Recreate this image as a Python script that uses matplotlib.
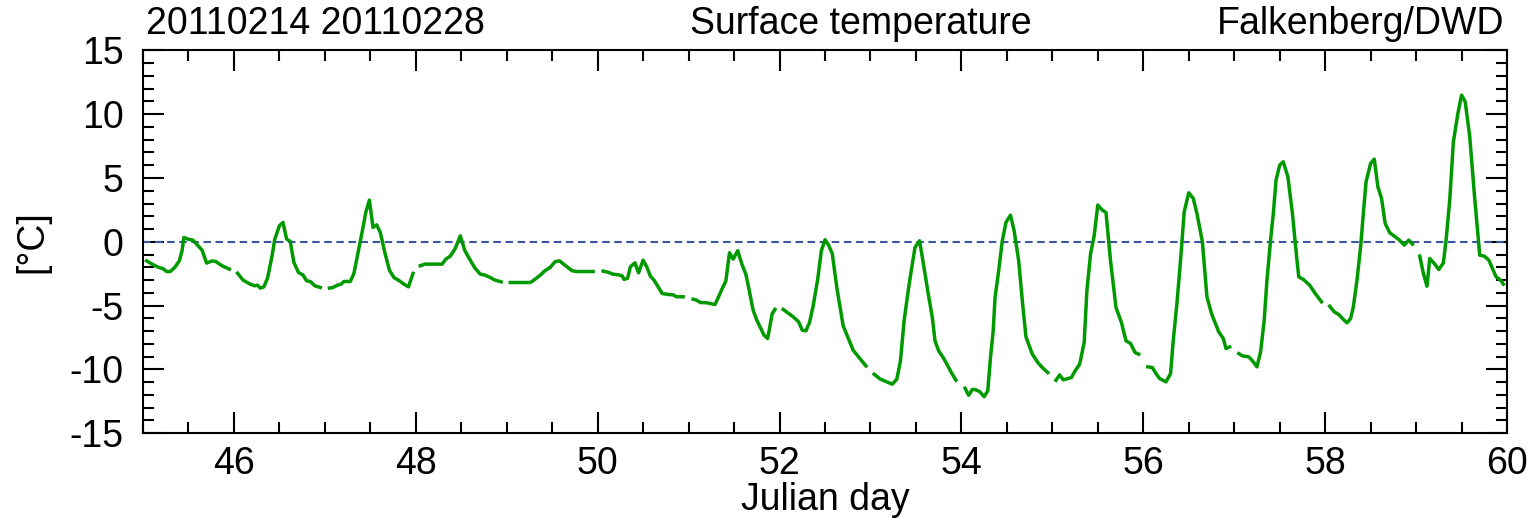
import numpy as np
import matplotlib.pyplot as plt
from matplotlib.ticker import MultipleLocator

plt.rcParams['font.family'] = ['Liberation Sans', 'DejaVu Sans']
plt.rcParams['axes.unicode_minus'] = False

# surface temperature, Falkenberg, 14-28 Feb 2011 (nan = missing around midnight)
day = [45.04, 45.10, 45.17, 45.22, 45.26, 45.30, 45.35, 45.40, 45.43, 45.45,
       45.50, 45.55, 45.59, 45.65, 45.70, 45.76, 45.80, 45.87, 45.95, np.nan,
       46.04, 46.10, 46.18, 46.23, 46.26, 46.29, 46.33, 46.37, 46.42, 46.45,
       46.50, 46.54, 46.58, 46.62, 46.66, 46.71, 46.76, 46.80, 46.84, 46.89,
       46.95, np.nan,
       47.05, 47.09, 47.14, 47.18, 47.21, 47.28, 47.32, 47.37, 47.42, 47.45,
       47.49, 47.53, 47.57, 47.61, 47.66, 47.71, 47.76, 47.82, 47.87, 47.92,
       47.97, np.nan,
       48.05, 48.10, 48.29, 48.33, 48.38, 48.43, 48.49, 48.54, 48.60, 48.65,
       48.71, 48.76, 48.82, 48.87, 48.94, np.nan,
       49.04, 49.26, 49.30, 49.37, 49.42, 49.48, 49.53, 49.58, 49.64, 49.72,
       49.77, 49.95, np.nan,
       50.06, 50.12, 50.17, 50.23, 50.27, 50.29, 50.33, 50.36, 50.41, 50.45,
       50.50, 50.54, 50.58, 50.62, 50.67, 50.71, 50.78, 50.83, 50.87, 50.94,
       np.nan,
       51.05, 51.09, 51.13, 51.20, 51.24, 51.29, 51.33, 51.37, 51.41, 51.45,
       51.49, 51.54, 51.59, 51.63, 51.67, 51.71, 51.75, 51.80, 51.83, 51.87,
       51.92, 51.95, np.nan,
       52.04, 52.10, 52.15, 52.21, 52.25, 52.29, 52.33, 52.37, 52.42, 52.46,
       52.50, 52.54, 52.58, 52.63, 52.70, 52.76, 52.81, 52.89, 52.95, np.nan,
       53.04, 53.11, 53.18, 53.24, 53.29, 53.33, 53.37, 53.42, 53.46, 53.49,
       53.54, 53.58, 53.63, 53.68, 53.71, 53.75, 53.80, 53.84, 53.89, 53.94,
       np.nan,
       54.04, 54.08, 54.12, 54.15, 54.20, 54.25, 54.29, 54.32, 54.35, 54.37,
       54.41, 54.45, 54.49, 54.54, 54.58, 54.63, 54.67, 54.71, 54.78, 54.84,
       54.89, 54.95, np.nan,
       55.04, 55.08, 55.12, 55.21, 55.25, 55.30, 55.35, 55.38, 55.42, 55.46,
       55.50, 55.55, 55.59, 55.64, 55.70, 55.76, 55.81, 55.86, 55.91, 55.95,
       np.nan,
       56.05, 56.10, 56.14, 56.18, 56.25, 56.30, 56.33, 56.37, 56.41, 56.45,
       56.50, 56.55, 56.59, 56.65, 56.70, 56.75, 56.83, 56.88, 56.91, 56.95,
       np.nan,
       57.05, 57.09, 57.16, 57.21, 57.25, 57.29, 57.33, 57.36, 57.40, 57.43,
       57.46, 57.50, 57.54, 57.59, 57.64, 57.69, 57.71, 57.76, 57.83, 57.89,
       57.96, np.nan,
       58.05, 58.10, 58.15, 58.19, 58.24, 58.28, 58.31, 58.35, 58.39, 58.42,
       58.45, 58.50, 58.54, 58.58, 58.62, 58.66, 58.71, 58.76, 58.81, 58.87,
       58.92, 58.96, np.nan,
       59.04, 59.08, 59.12, 59.15, 59.20, 59.25, 59.30, 59.33, 59.37, 59.41,
       59.46, 59.50, 59.54, 59.59, 59.64, 59.70, 59.75, 59.80, 59.84, 59.88,
       59.93, 59.96]

temp = [-1.49, -1.75, -2.0, -2.1, -2.33, -2.33, -2.0, -1.5, -0.7, 0.34,
        0.2, 0.13, -0.18, -0.65, -1.67, -1.5, -1.54, -1.88, -2.14, np.nan,
        -2.46, -3.0, -3.32, -3.45, -3.4, -3.63, -3.53, -2.85, -1.1, 0.21,
        1.25, 1.52, 0.21, 0.03, -1.62, -2.4, -2.6, -3.06, -3.11, -3.45,
        -3.58, np.nan,
        -3.63, -3.58, -3.4, -3.32, -3.11, -3.11, -2.48, -0.7, 1.12, 2.3,
        3.27, 1.12, 1.33, 0.73, -0.84, -2.22, -2.8, -3.06, -3.32, -3.53,
        -2.48, np.nan,
        -1.88, -1.75, -1.75, -1.36, -1.12, -0.58, 0.47, -0.7, -1.45, -2.05,
        -2.54, -2.61, -2.8, -3.0, -3.14, np.nan,
        -3.19, -3.19, -3.0, -2.61, -2.27, -2.0, -1.57, -1.49, -1.83, -2.27,
        -2.33, -2.33, np.nan,
        -2.3, -2.4, -2.54, -2.59, -2.67, -2.95, -2.85, -1.96, -1.65, -2.43,
        -1.44, -1.96, -2.69, -3.0, -3.58, -4.05, -4.13, -4.16, -4.31, -4.31,
        np.nan,
        -4.5, -4.58, -4.76, -4.78, -4.84, -4.92, -4.31, -3.66, -3.08, -0.86,
        -1.36, -0.7, -1.83, -2.54, -3.92, -5.36, -6.14, -6.88, -7.32, -7.58,
        -5.62, -5.3, np.nan,
        -5.3, -5.62, -5.88, -6.27, -6.93, -6.98, -6.33, -5.02, -2.93, -0.7,
        0.16, -0.26, -0.92, -3.58, -6.59, -7.63, -8.5, -9.2, -9.73, np.nan,
        -10.38, -10.77, -10.98, -11.16, -10.77, -9.33, -6.2, -3.58, -1.75, -0.44,
        0.08, -1.62, -3.84, -5.93, -7.76, -8.55, -9.07, -9.6, -10.25, -10.85,
        np.nan,
        -11.48, -12.03, -11.58, -11.58, -11.74, -12.14, -11.69, -9.07, -6.98, -4.37,
        -2.27, 0.08, 1.52, 2.09, 0.86, -1.49, -4.63, -7.45, -8.81, -9.46,
        -9.86, -10.25, np.nan,
        -10.85, -10.43, -10.82, -10.64, -10.12, -9.6, -7.9, -3.84, -0.97, 0.47,
        2.88, 2.48, 2.3, -1.49, -5.15, -6.33, -7.76, -7.97, -8.68, -8.81,
        np.nan,
        -9.8, -9.86, -10.33, -10.72, -10.98, -10.33, -7.71, -4.84, -1.44, 2.35,
        3.84, 3.4, 2.22, 0.0, -4.31, -5.62, -7.06, -7.58, -8.37, -8.24,
        np.nan,
        -8.76, -8.94, -9.02, -9.41, -9.8, -8.63, -6.14, -3.01, 0.13, 2.22,
        4.84, 6.01, 6.27, 5.1, 2.22, -1.44, -2.75, -2.95, -3.4, -4.05,
        -4.7, np.nan,
        -5.05, -5.49, -5.7, -6.01, -6.35, -6.01, -5.1, -3.01, -0.39, 2.22,
        4.71, 6.14, 6.48, 4.31, 3.4, 1.44, 0.71, 0.44, 0.18, -0.26,
        0.13, -0.18, np.nan,
        -1.12, -2.48, -3.48, -1.31, -1.7, -2.17, -1.65, 0.13, 3.27, 7.84,
        10.07, 11.5, 10.98, 8.24, 3.79, -1.05, -1.12, -1.44, -2.09, -2.75,
        -3.01, -3.32]

xticks = [46, 48, 50, 52, 54, 56, 58, 60]
yticks = [-15, -10, -5, 0, 5, 10, 15]

fs = 27

fig = plt.figure(figsize=(15.37, 5.20), dpi=100)
ax = fig.add_axes([0.093, 0.167, 0.8875, 0.736])

ax.axhline(0, color='#3a56a0', lw=1.5, dashes=(3.6, 2.2))
ax.plot(day, temp, color='#009900', lw=2.5)

ax.set_xlim(45, 60)
ax.set_ylim(-15, 15)
ax.set_xticks(xticks)
ax.set_yticks(yticks)
ax.xaxis.set_minor_locator(MultipleLocator(0.5))
ax.yaxis.set_minor_locator(MultipleLocator(1))
ax.tick_params(which='both', direction='in', top=True, right=True,
               width=1.5, labelsize=fs)
ax.tick_params(which='major', length=15)
ax.tick_params(which='minor', length=8)
ax.tick_params(axis='x', pad=9)
ax.tick_params(axis='y', pad=14)
for s in ax.spines.values():
    s.set_linewidth(1.5)

ax.set_xlabel('Julian day', fontsize=fs, labelpad=0)
ax.set_ylabel('[°C]', fontsize=fs, labelpad=14)

fig.text(0.095, 0.954, '20110214 20110228', fontsize=fs, va='center', ha='left')
fig.text(0.560, 0.954, 'Surface temperature', fontsize=fs, va='center', ha='center')
fig.text(0.979, 0.954, 'Falkenberg/DWD', fontsize=fs, va='center', ha='right')

fig.savefig('out.png', dpi=100)
